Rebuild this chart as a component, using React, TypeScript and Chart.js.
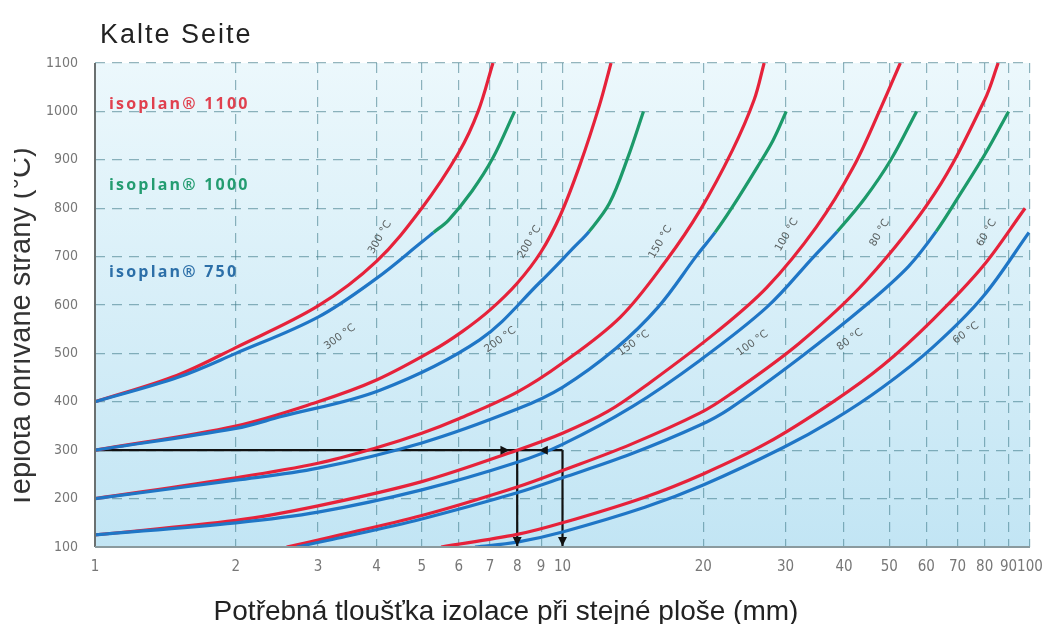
import React, { useEffect, useRef } from "react";
import { Chart, registerables } from "chart.js";
Chart.register(...registerables);

// ---------- axis ticks ----------
const xTicks = [1, 2, 3, 4, 5, 6, 7, 8, 9, 10, 20, 30, 40, 50, 60, 70, 80, 90, 100];
const yMin = 100;
const yMax = 1100;
// isoplan 750 is drawn up to this hot-side temperature, isoplan 1000 above it
const blueLimit = 750;

// ---------- cold-side temperature labels ----------
const coldLabels = ["300 °C", "200 °C", "150 °C", "100 °C", "80 °C", "60 °C"];
const upperLabelX = [4.07, 8.5, 16.2, 30.2, 47.7, 80.8];
const upperLabelY = [740, 730, 730, 745, 749, 749];
const lowerLabelX = [3.34, 7.36, 14.2, 25.5, 41.2, 73];
const lowerLabelY = [534, 528, 521, 521, 528, 542];

// ---------- series names ----------
const seriesNames = ["isoplan® 1100", "isoplan® 1000", "isoplan® 750"];
const seriesNameY = [1015, 848, 668];

// ---------- cold side 300 °C ----------
const g1RedX = [1, 1.5, 2, 3, 4, 5, 6, 6.6, 7.1];
const g1RedY = [400, 455, 512, 598, 690, 800, 915, 1000, 1100];
const g1LowX = [1, 1.5, 2, 3, 4, 5, 5.3, 5.7, 6.4, 7.1, 7.9];
const g1LowY = [400, 450, 500, 575, 655, 730, 750, 775, 835, 904, 1000];

// ---------- cold side 200 °C ----------
const g2RedX = [1, 2, 3, 4, 5.3, 6.1, 7, 8, 9, 9.9, 10.9, 12, 12.7];
const g2RedY = [300, 350, 400, 445, 507, 545, 590, 645, 710, 786, 890, 1013, 1100];
const g2LowX = [1, 2, 2.49, 4.07, 6.65, 8.95, 10.6, 11.4, 12.6, 13.8, 14.9];
const g2LowY = [300, 345, 369, 424, 528, 647, 720, 752, 810, 905, 1000];

// ---------- cold side 150 °C ----------
const g3RedX = [1, 2, 3, 4, 5, 6, 8, 10, 13.3, 16.7, 19.7, 23.1, 25.7, 27];
const g3RedY = [200, 243, 273, 305, 335, 365, 420, 480, 575, 693, 796, 920, 1024, 1100];
const g3LowX = [1, 2, 3, 5, 8, 10, 13, 16, 19.4, 21.2, 23, 26.1, 28.2, 30.1];
const g3LowY = [200, 238, 263, 315, 385, 430, 510, 595, 703, 750, 800, 885, 940, 1000];

// ---------- cold side 100 °C ----------
const g4RedX = [1, 2, 3, 5, 8, 10, 12.5, 15.4, 21.4, 27.4, 34.9, 41.9, 48.1, 52.8];
const g4RedY = [125, 155, 185, 235, 300, 335, 380, 440, 545, 637, 761, 885, 1010, 1100];
const g4LowX = [1, 2, 3, 5, 8, 10, 14.1, 19.7, 27.4, 34.4, 38.7, 44.3, 50.4, 57.2];
const g4LowY = [125, 150, 172, 218, 275, 312, 390, 486, 596, 699, 752, 820, 900, 1000];

// ---------- cold side 80 °C ----------
const g5RedX = [2.57, 3.18, 5, 8, 10, 14, 19.7, 22.8, 32.1, 44.6, 62.5, 80, 85.5];
const g5RedY = [100, 120, 165, 224, 258, 312, 377, 415, 521, 650, 830, 1024, 1100];
const g5LowX = [2.7, 3.3, 5, 8, 10, 14, 19.7, 22.8, 32.1, 44.6, 55, 63, 71, 80.5, 90];
const g5LowY = [100, 118, 158, 212, 243, 292, 352, 386, 490, 600, 680, 752, 830, 915, 1000];

// ---------- cold side 60 °C ----------
const g6RedX = [5.5, 8, 10, 15, 20, 27.4, 37.9, 48.4, 62, 79.3, 97.6];
const g6RedY = [100, 126, 150, 203, 251, 315, 400, 475, 570, 680, 800];
const g6LowX = [6.5, 8, 10, 15, 20, 29.6, 37.9, 48.4, 62, 79.3, 99.5];
const g6LowY = [100, 110, 131, 182, 228, 305, 362, 430, 513, 617, 750];

// ---------- example reading (arrows) ----------
const arrowY = 300;
const arrowFromX = 1;
const arrowDownX = [8, 10];
const arrowHeadRightX = 7.7;
const arrowHeadLeftX = 8.9;

const RED = "#e6223a";
const BLUE = "#1f76c6";
const GREEN = "#1c9a6a";

const zip = (xs: number[], ys: number[]) => xs.map((x, i) => ({ x, y: ys[i] }));

const redCurve = (xs: number[], ys: number[]) => ({
  data: zip(xs, ys),
  borderColor: RED,
  borderWidth: 3.2,
  pointRadius: 0,
  fill: false,
  tension: 0.35,
});

const lowCurve = (xs: number[], ys: number[]) => ({
  data: zip(xs, ys),
  borderColor: BLUE,
  segment: {
    borderColor: (c: any) => (c.p0.parsed.y >= blueLimit ? GREEN : BLUE),
  },
  borderWidth: 3.2,
  pointRadius: 0,
  fill: false,
  tension: 0.35,
});

const black = (pts: { x: number; y: number }[]) => ({
  data: pts,
  borderColor: "#111",
  borderWidth: 2.2,
  pointRadius: 0,
  fill: false,
  tension: 0,
});

const TICK_FONT = "'DejaVu Sans Condensed', 'DejaVu Sans'";

const decorPlugin = {
  id: "decor",
  beforeDraw(chart: any) {
    const { ctx, chartArea: a } = chart;
    ctx.save();
    const g = ctx.createLinearGradient(0, a.top, 0, a.bottom);
    g.addColorStop(0, "#ecf8fc");
    g.addColorStop(1, "#c2e5f4");
    ctx.fillStyle = g;
    ctx.fillRect(a.left, a.top, a.right - a.left, a.bottom - a.top);
    ctx.restore();
  },
  afterDatasetsDraw(chart: any) {
    const { ctx, chartArea: a, scales } = chart;
    const xs = scales.x;
    const ys = scales.y;
    ctx.save();
    // axis lines
    ctx.strokeStyle = "#6a7070";
    ctx.lineWidth = 2;
    ctx.beginPath();
    ctx.moveTo(a.left, a.top);
    ctx.lineTo(a.left, a.bottom);
    ctx.stroke();
    ctx.strokeStyle = "#8a9a9e";
    ctx.beginPath();
    ctx.moveTo(a.left, a.bottom);
    ctx.lineTo(a.right, a.bottom);
    ctx.stroke();

    // arrowheads
    const head = (px: number, py: number, dir: string) => {
      const L = 9, W = 4.5;
      ctx.fillStyle = "#111";
      ctx.beginPath();
      if (dir === "right") { ctx.moveTo(px, py); ctx.lineTo(px - L, py - W); ctx.lineTo(px - L, py + W); }
      if (dir === "left") { ctx.moveTo(px, py); ctx.lineTo(px + L, py - W); ctx.lineTo(px + L, py + W); }
      if (dir === "down") { ctx.moveTo(px, py); ctx.lineTo(px - W, py - L); ctx.lineTo(px + W, py - L); }
      ctx.closePath();
      ctx.fill();
    };
    head(xs.getPixelForValue(arrowHeadRightX), ys.getPixelForValue(arrowY), "right");
    head(xs.getPixelForValue(arrowHeadLeftX), ys.getPixelForValue(arrowY), "left");
    arrowDownX.forEach((v) => head(xs.getPixelForValue(v), ys.getPixelForValue(yMin) - 1, "down"));

    // curve labels
    ctx.fillStyle = "#5a6060";
    ctx.font = "10.5px 'DejaVu Sans'";
    ctx.textAlign = "center";
    ctx.textBaseline = "middle";
    coldLabels.forEach((t, i) => {
      ctx.save();
      ctx.translate(xs.getPixelForValue(upperLabelX[i]), ys.getPixelForValue(upperLabelY[i]));
      ctx.rotate(-Math.PI / 3);
      ctx.fillText(t, 0, 0);
      ctx.restore();
      ctx.save();
      ctx.translate(xs.getPixelForValue(lowerLabelX[i]), ys.getPixelForValue(lowerLabelY[i]));
      ctx.rotate(-Math.PI / 5);
      ctx.fillText(t, 0, 0);
      ctx.restore();
    });

    // series names
    const nameColors = ["#e0404e", "#239c70", "#2c6fa8"];
    ctx.font = "bold 16px 'Open Sans'";
    (ctx as any).letterSpacing = "2.2px";
    ctx.textAlign = "left";
    seriesNames.forEach((n, i) => {
      ctx.fillStyle = nameColors[i];
      ctx.fillText(n, a.left + 14, ys.getPixelForValue(seriesNameY[i]));
    });

    // titles
    ctx.fillStyle = "#222";
    ctx.font = "27px 'Liberation Sans'";
    (ctx as any).letterSpacing = "2px";
    ctx.textAlign = "left";
    ctx.textBaseline = "alphabetic";
    ctx.fillText("Kalte Seite", 100, 43);
    (ctx as any).letterSpacing = "0px";

    ctx.font = "28px 'Liberation Sans'";
    ctx.textAlign = "center";
    ctx.fillText("Potřebná tloušťka izolace při stejné ploše (mm)", 506, 620);

    // y-axis title (cut at its upper edge, as in the source)
    ctx.save();
    ctx.beginPath();
    ctx.rect(14, 0, 60, 624);
    ctx.clip();
    ctx.translate(30, 328);
    ctx.rotate(-Math.PI / 2);
    ctx.font = "29px 'Liberation Sans'";
    ctx.fillStyle = "#333";
    ctx.fillText("Teplota ohřívané strany (°C)", 0, 0);
    ctx.restore();

    ctx.restore();
  },
};

export default function App() {
  const ref = useRef<HTMLCanvasElement | null>(null);
  useEffect(() => {
    if (!ref.current) return;
    const datasets: any[] = [
      lowCurve(g1LowX, g1LowY), redCurve(g1RedX, g1RedY),
      lowCurve(g2LowX, g2LowY), redCurve(g2RedX, g2RedY),
      lowCurve(g3LowX, g3LowY), redCurve(g3RedX, g3RedY),
      lowCurve(g4LowX, g4LowY), redCurve(g4RedX, g4RedY),
      lowCurve(g5LowX, g5LowY), redCurve(g5RedX, g5RedY),
      lowCurve(g6LowX, g6LowY), redCurve(g6RedX, g6RedY),
      black([{ x: arrowFromX, y: arrowY }, { x: arrowDownX[1], y: arrowY }]),
      ...arrowDownX.map((v) => black([{ x: v, y: arrowY }, { x: v, y: yMin }])),
    ];
    const chart = new Chart(ref.current, {
      type: "line",
      data: { datasets },
      plugins: [decorPlugin],
      options: {
        animation: false,
        responsive: true,
        maintainAspectRatio: false,
        layout: { padding: { left: 0, top: 63, right: 17, bottom: 0 } },
        plugins: { legend: { display: false }, tooltip: { enabled: false } },
        scales: {
          x: {
            type: "logarithmic",
            min: 1,
            max: 100,
            afterBuildTicks: (s: any) => { s.ticks = xTicks.map((v) => ({ value: v })); },
            afterFit: (s: any) => { s.height = 77; s.paddingLeft = 0; s.paddingRight = 0; },
            ticks: {
              autoSkip: false,
              maxRotation: 0,
              padding: 11,
              color: "#777",
              font: { size: 15, family: TICK_FONT },
              callback: (v: any) => String(v),
            },
            grid: { color: "rgba(60,120,135,0.55)", lineWidth: 1.2, drawTicks: false },
            border: { display: false, dash: [10, 7] },
          },
          y: {
            type: "linear",
            min: yMin,
            max: yMax,
            afterFit: (s: any) => { s.width = 95; s.paddingTop = 0; s.paddingBottom = 0; },
            ticks: {
              stepSize: 100,
              padding: 17,
              color: "#777",
              font: { size: 14, family: TICK_FONT },
              callback: (v: any) => String(v),
            },
            grid: { color: "rgba(60,120,135,0.55)", lineWidth: 1.2, drawTicks: false },
            border: { display: false, dash: [10, 7] },
          },
        },
      },
    });
    return () => chart.destroy();
  }, []);
  return (
    <div style={{ position: "absolute", left: 0, top: 0, width: 1047, height: 624 }}>
      <canvas ref={ref} />
    </div>
  );
}
